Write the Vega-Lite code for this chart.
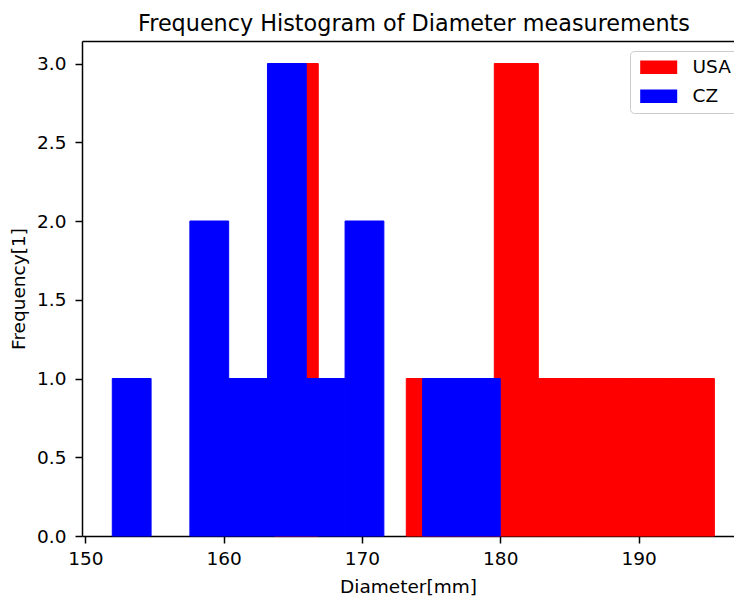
{
  "$schema": "https://vega.github.io/schema/vega-lite/v6.json",
  "width": 652,
  "height": 495,
  "autosize": {"type": "none"},
  "padding": {"left": 82, "top": 41, "right": 0, "bottom": 63},
  "background": "white",
  "title": {
    "text": "Frequency Histogram of Diameter measurements",
    "font": "DejaVu Sans",
    "fontSize": 22.3,
    "fontWeight": "normal",
    "color": "#000000",
    "anchor": "middle",
    "dx": 6,
    "dy": 25,
    "offset": 13,
    "baseline": "alphabetic"
  },
  "data": {
    "values": [
      {"country": "USA", "bin_start": 163.66, "bin_end": 166.842, "count": 3},
      {"country": "USA", "bin_start": 166.842, "bin_end": 170.024, "count": 0},
      {"country": "USA", "bin_start": 170.024, "bin_end": 173.206, "count": 0},
      {"country": "USA", "bin_start": 173.206, "bin_end": 176.388, "count": 1},
      {"country": "USA", "bin_start": 176.388, "bin_end": 179.57, "count": 1},
      {"country": "USA", "bin_start": 179.57, "bin_end": 182.752, "count": 3},
      {"country": "USA", "bin_start": 182.752, "bin_end": 185.934, "count": 1},
      {"country": "USA", "bin_start": 185.934, "bin_end": 189.116, "count": 1},
      {"country": "USA", "bin_start": 189.116, "bin_end": 192.298, "count": 1},
      {"country": "USA", "bin_start": 192.298, "bin_end": 195.48, "count": 1},
      {"country": "CZ", "bin_start": 151.95, "bin_end": 154.755, "count": 1},
      {"country": "CZ", "bin_start": 154.755, "bin_end": 157.56, "count": 0},
      {"country": "CZ", "bin_start": 157.56, "bin_end": 160.365, "count": 2},
      {"country": "CZ", "bin_start": 160.365, "bin_end": 163.17, "count": 1},
      {"country": "CZ", "bin_start": 163.17, "bin_end": 165.975, "count": 3},
      {"country": "CZ", "bin_start": 165.975, "bin_end": 168.78, "count": 1},
      {"country": "CZ", "bin_start": 168.78, "bin_end": 171.585, "count": 2},
      {"country": "CZ", "bin_start": 171.585, "bin_end": 174.39, "count": 0},
      {"country": "CZ", "bin_start": 174.39, "bin_end": 177.195, "count": 1},
      {"country": "CZ", "bin_start": 177.195, "bin_end": 180.0, "count": 1}
    ]
  },
  "resolve": {"axis": {"x": "independent"}},
  "layer": [
    {
      "transform": [{"filter": "datum.count > 0"}],
      "mark": {"type": "bar", "cornerRadius": 0, "strokeWidth": 1, "orient": "vertical"},
      "encoding": {
        "x": {
          "field": "bin_start",
          "type": "quantitative",
          "scale": {"domain": [149.76, 196.9], "nice": false, "zero": false, "padding": 0},
          "axis": {
            "values": [150, 160, 170, 180, 190],
            "format": "d",
            "title": "Diameter[mm]",
            "grid": false,
            "labelFlush": false,
            "labelPadding": 6,
            "titlePadding": 10
          }
        },
        "x2": {"field": "bin_end"},
        "y": {
          "field": "count",
          "type": "quantitative",
          "stack": null,
          "scale": {"domain": [0, 3.143], "nice": false, "padding": 0},
          "axis": {
            "values": [0, 0.5, 1, 1.5, 2, 2.5, 3],
            "format": ".1f",
            "title": "Frequency[1]",
            "grid": false,
            "labelPadding": 9,
            "titlePadding": 8
          }
        },
        "y2": {"datum": 0},
        "color": {
          "field": "country",
          "type": "nominal",
          "scale": {"domain": ["USA", "CZ"], "range": ["#ff0000", "#0000ff"]},
          "legend": {
            "title": null,
            "orient": "none",
            "legendX": 548,
            "legendY": 10,
            "padding": 7,
            "rowPadding": 10,
            "symbolType": "M-0.91,-1H4.654V1H-0.91Z",
            "symbolSize": 177,
            "symbolStrokeWidth": 0,
            "symbolOpacity": 1,
            "labelOffset": 37,
            "labelFont": "DejaVu Sans",
            "labelFontSize": 18.5,
            "labelColor": "#000000",
            "fillColor": "rgba(255,255,255,0.8)",
            "strokeColor": "#cccccc",
            "cornerRadius": 4
          }
        },
        "stroke": {
          "field": "country",
          "type": "nominal",
          "scale": {"domain": ["USA", "CZ"], "range": ["#ff0000", "#0000ff"]},
          "legend": null
        }
      }
    },
    {
      "mark": {"type": "bar", "opacity": 0, "orient": "vertical"},
      "encoding": {
        "x": {
          "field": "bin_start",
          "type": "quantitative",
          "axis": {"orient": "top", "labels": false, "ticks": false, "title": null, "grid": false}
        },
        "x2": {"field": "bin_end"},
        "y": {"field": "count", "type": "quantitative", "stack": null},
        "y2": {"datum": 0}
      }
    }
  ],
  "config": {
    "view": {"stroke": null},
    "font": "DejaVu Sans",
    "axis": {
      "labelFont": "DejaVu Sans",
      "labelFontSize": 18.5,
      "labelColor": "#000000",
      "titleFont": "DejaVu Sans",
      "titleFontSize": 18.5,
      "titleFontWeight": "normal",
      "titleColor": "#000000",
      "domainColor": "#000000",
      "domainWidth": 1.5,
      "tickColor": "#000000",
      "tickWidth": 1.5,
      "tickSize": 7
    }
  }
}
